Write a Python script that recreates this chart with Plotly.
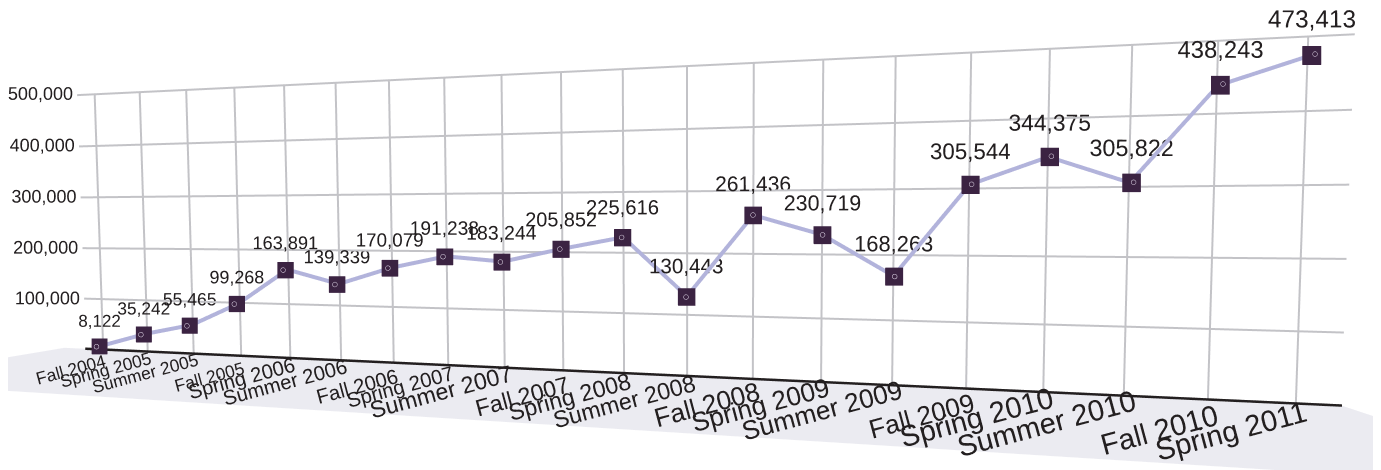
import numpy as np
import plotly.graph_objects as go

terms = ["Fall 2004", "Spring 2005", "Summer 2005", "Fall 2005", "Spring 2006",
         "Summer 2006", "Fall 2006", "Spring 2007", "Summer 2007", "Fall 2007",
         "Spring 2008", "Summer 2008", "Fall 2008", "Spring 2009", "Summer 2009",
         "Fall 2009", "Spring 2010", "Summer 2010", "Fall 2010", "Spring 2011"]
enrollment = [8122, 35242, 55465, 99268, 163891, 139339, 170079, 191238, 183244, 205852,
              225616, 130443, 261436, 230719, 168263, 305544, 344375, 305822, 438243, 473413]
value_ticks = [100000, 200000, 300000, 400000, 500000]
value_tick_text = ["100,000", "200,000", "300,000", "400,000", "500,000"]

n = len(terms)
idx = list(range(n))
X_RANGE = [-0.4, n - 0.5]
Z_RANGE = [0, 500000]
FONT = "Liberation Sans, Arial"
GRID = "#c3c3c7"
INK = "#231f20"
MARK = "#3b2342"
LINE = "#b2b3db"
FLOOR = "#ebebf1"
W, H = 1381, 470

# ---------- one shared perspective camera (world units) ----------
KX = 0.2133            # world units per term step
KZ = 1.0 / 500000      # world units per student
D0 = 1.827             # eye-to-wall distance along the view ray
GAMMA = np.radians(9.62)
PITCH = np.radians(1.82)
CENTRE_CAT = 11.175
EYE_VALUE = 245800
EYE = np.array([CENTRE_CAT * KX + D0 * np.sin(GAMMA), -D0 * np.cos(GAMMA), EYE_VALUE * KZ])
LOOK = np.array([CENTRE_CAT * KX, 0.0, EYE_VALUE * KZ - D0 * np.tan(PITCH)])
K = np.array([KX, 1.0, KZ])

# camera basis (same as the WebGL lookAt / 45 degree perspective)
FOC = (H / 2) / np.tan(np.pi / 8)
FWD = (LOOK - EYE) / np.linalg.norm(LOOK - EYE)
RIGHT = np.cross(FWD, [0, 0, 1.0]); RIGHT /= np.linalg.norm(RIGHT)
UPV = np.cross(RIGHT, FWD)


def project(p):
    d = np.asarray(p, float) - EYE
    zc = d @ FWD
    return np.array([W / 2 + FOC * (d @ RIGHT) / zc, H / 2 - FOC * (d @ UPV) / zc])


def floor_point(sx, sy):
    ray = FWD + (sx - W / 2) / FOC * RIGHT - (sy - H / 2) / FOC * UPV
    t = -EYE[2] / ray[2]
    return EYE + t * ray


axis_off = dict(showgrid=False, zeroline=False, showline=False, showspikes=False,
                ticks="", showbackground=False, showticklabels=False, title=dict(text=""))


def scene_layout(y_range, z_range, xaxis=None, floor=False, x_range=X_RANGE):
    lo = np.array([x_range[0], y_range[0], z_range[0]])
    hi = np.array([x_range[1], y_range[1], z_range[1]])
    mid = (lo + hi) / 2 * K
    asp = (hi - lo) * K
    eye = EYE - mid
    cen = LOOK - mid
    xa = dict(axis_off, range=x_range)
    if xaxis:
        xa.update(xaxis)
    za = dict(axis_off, range=z_range)
    if floor:
        za.update(showbackground=True, backgroundcolor=FLOOR)
    return dict(
        domain=dict(x=[0, 1], y=[0, 1]),
        xaxis=xa, yaxis=dict(axis_off, range=y_range), zaxis=za,
        aspectmode="manual", aspectratio=dict(x=asp[0], y=asp[1], z=asp[2]),
        camera=dict(eye=dict(x=eye[0], y=eye[1], z=eye[2]),
                    center=dict(x=cen[0], y=cen[1], z=cen[2]),
                    up=dict(x=0, y=0, z=1), projection=dict(type="perspective")),
        dragmode=False, bgcolor="rgba(0,0,0,0)")


# perspective scale of each term (for label font sizes)
depth = np.array([(np.array([c * KX, 0, 0]) - EYE) @ FWD for c in idx])
persp = depth[0] / depth
label_sizes = list(17.0 * persp)
marker_sizes = list(16.5 * persp ** 0.5)

fig = go.Figure()
layout = {}


def dummy(scene, x, y, z):
    fig.add_trace(go.Scatter3d(x=[x], y=[y], z=[z], mode="markers", scene=scene,
                               marker=dict(size=0.1, color="rgba(0,0,0,0)"),
                               hoverinfo="skip", showlegend=False))


# ---- scene 1: the floor ----
FLOOR_X = [-0.9, n - 0.5]
FLOOR_Y = [-0.5, 0.0]
layout["scene"] = scene_layout(FLOOR_Y, [0, 10000], floor=True, x_range=FLOOR_X)
dummy("scene", 0, -0.2, 5000)

# ---- scene 2: wall, grid and data ----
WALL_Y = [-0.03, 0.001]
layout["scene2"] = scene_layout(WALL_Y, Z_RANGE)
gx, gy, gz = [], [], []
for c in idx:
    gx += [c, c, None]; gy += [0, 0, None]; gz += [Z_RANGE[0], Z_RANGE[1], None]
for v in value_ticks:
    gx += [X_RANGE[0] + 0.001, X_RANGE[1] - 0.001, None]; gy += [0, 0, None]; gz += [v, v, None]
fig.add_trace(go.Scatter3d(x=gx, y=gy, z=gz, mode="lines", scene="scene2",
                           line=dict(color=GRID, width=4), hoverinfo="skip", showlegend=False))
fig.add_trace(go.Scatter3d(x=[X_RANGE[0] + 0.001, X_RANGE[1] - 0.001], y=[-0.002, -0.002],
                           z=[300, 300], mode="lines", scene="scene2",
                           line=dict(color=INK, width=5), hoverinfo="skip", showlegend=False))
fig.add_trace(go.Scatter3d(x=[-0.1] * len(value_ticks), y=[0] * len(value_ticks),
                           z=value_ticks, mode="text", text=value_tick_text, scene="scene2",
                           textposition="middle left",
                           textfont=dict(size=18, color=INK, family=FONT),
                           hoverinfo="skip", showlegend=False))
fig.add_trace(go.Scatter3d(
    x=idx, y=[-0.004] * n, z=enrollment, mode="lines", scene="scene2",
    line=dict(color=LINE, width=8), hoverinfo="skip", showlegend=False))
fig.add_trace(go.Scatter3d(
    x=idx, y=[-0.012] * n, z=enrollment, mode="markers+text", scene="scene2",
    text=[f"{v:,}" for v in enrollment], textposition="top center",
    textfont=dict(size=label_sizes, color=INK, family=FONT),
    marker=dict(symbol="square", size=marker_sizes, color=MARK, opacity=1, line=dict(width=0)),
    hoverinfo="skip", showlegend=False))
fig.add_trace(go.Scatter3d(
    x=idx, y=[-0.022] * n, z=enrollment, mode="markers", scene="scene2",
    marker=dict(symbol="circle-open", size=3, color="#d4cbdc"),
    hoverinfo="skip", showlegend=False))

# ---- scenes 3..7: term labels, rotated, right end at the tick, growing to the front ----
ARIAL = {"F": .611, "a": .556, "l": .222, " ": .278, "S": .667, "p": .556, "r": .333,
         "i": .222, "n": .556, "g": .556, "u": .556, "m": .833, "e": .556}
ANGLE = np.radians(15)
TEXT_K = 0.077          # rendered px of a 3D tick label = TEXT_K * size**2
PAD = 0.06              # tick padding of the 3D axis, world units


def label_target(c, px):
    wx, wy = project([c * KX, 0, 0])
    length = sum(ARIAL.get(ch, .556) for ch in terms[c]) * px
    return wx + 3 - 0.5 * length * np.cos(ANGLE), wy + 9 + 0.5 * length * np.sin(ANGLE)


def x_on_line(y_world, sx):
    lo, hi = -10.0, 30.0
    for _ in range(60):
        m = (lo + hi) / 2
        if project([m * KX, y_world, 0])[0] < sx:
            lo = m
        else:
            hi = m
    return (lo + hi) / 2


groups = [idx[i:i + 4] for i in range(0, n, 4)]
for g_no, grp in enumerate(groups):
    name = f"scene{g_no + 3}"
    px = np.mean([15 + 13 * c / (n - 1) for c in grp])
    targets = [label_target(c, px) for c in grp]
    y_anchor = np.mean([floor_point(*t)[1] for t in targets])
    tick_pos = [x_on_line(y_anchor, t[0]) for t in targets]
    edge = min(y_anchor + PAD, -0.005)
    layout[name] = scene_layout(
        [edge, 0.0], [0, 10000],
        xaxis=dict(showticklabels=True, tickmode="array", tickvals=tick_pos,
                   ticktext=[terms[c] for c in grp], tickangle=-15,
                   tickfont=dict(size=float(np.sqrt(px / TEXT_K)), color=INK, family=FONT)))
    dummy(name, 0, edge / 2, 5000)

fig.update_layout(width=W, height=H, margin=dict(l=0, r=0, t=0, b=0),
                  paper_bgcolor="white", showlegend=False, hovermode=False,
                  font=dict(family=FONT, color=INK), **layout)
fig.write_html("out.html")
